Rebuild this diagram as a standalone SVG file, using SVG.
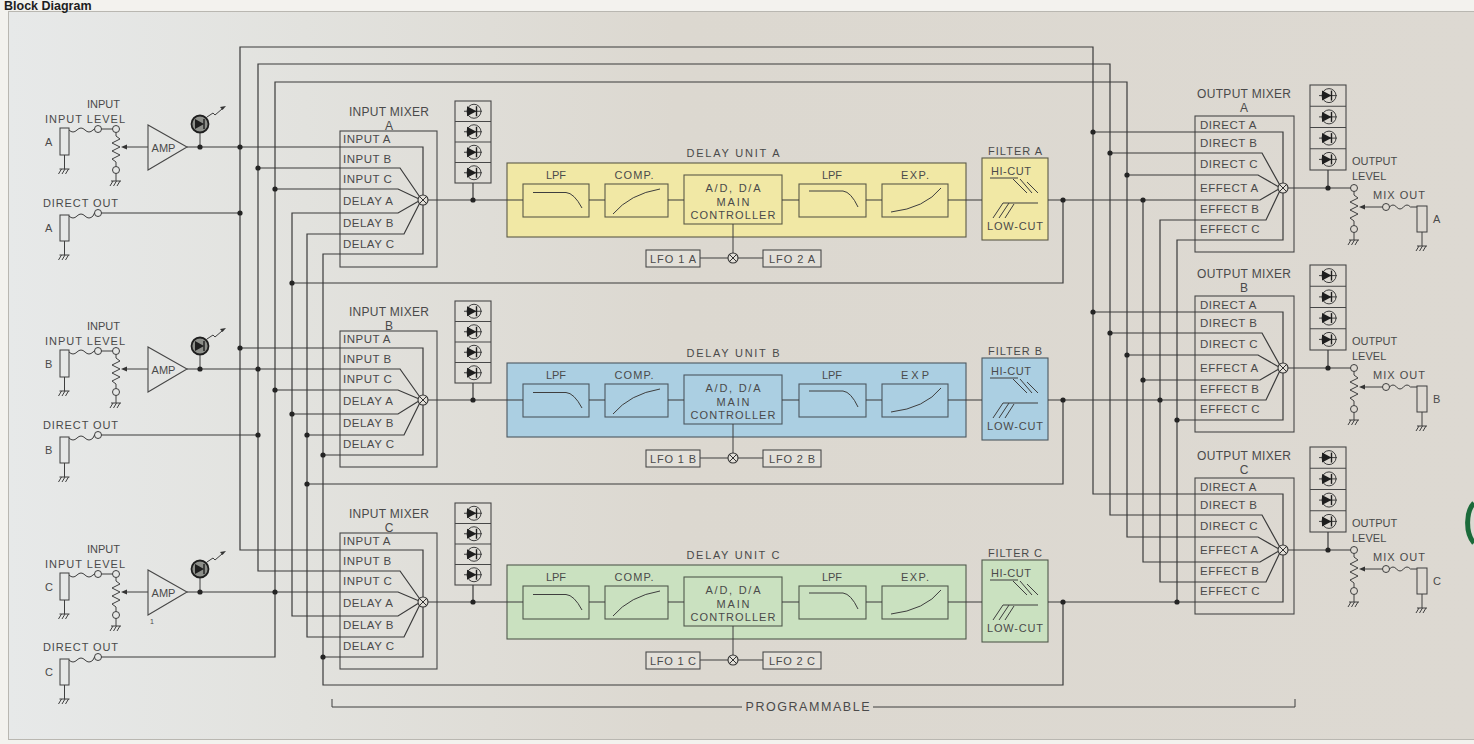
<svg xmlns="http://www.w3.org/2000/svg" width="1474" height="744" viewBox="0 0 1474 744">
<defs>
<style>
text{font-family:"Liberation Sans",Arial,Helvetica,sans-serif;fill:#4a4a4a;font-size:11px}
.m{text-anchor:middle}
.ttl{font-size:12px;text-anchor:middle}
.row{font-size:11.5px;letter-spacing:.5px}
.w{fill:none;stroke:#3b3b3b;stroke-width:1.2}
.b{fill:none;stroke:#474747;stroke-width:1.1}
.c{fill:none;stroke:#3e3e3e;stroke-width:1}
.d{fill:#242424}
.yl{fill:#f1e8a5;stroke:#5b5a48;stroke-width:1.1}
.bl{fill:#abcfe2;stroke:#4c5860;stroke-width:1.1}
.gr{fill:#cae1c0;stroke:#50594c;stroke-width:1.1}
.lfo{fill:#e3e0d9;stroke:#4a4a4a;stroke-width:1.1}
</style>
<linearGradient id="bg" x1="0" y1="0" x2="1" y2="0">
<stop offset="0" stop-color="#e7e9e9"/><stop offset="0.2" stop-color="#e2e2de"/><stop offset="0.45" stop-color="#dcd8d0"/><stop offset="1" stop-color="#ddd9d2"/>
</linearGradient>
<g id="gnd"><path d="M-5,0 H5 M-3,0 L-6,5 M0.5,0 L-2.5,5 M4,0 L1,5" class="c"/></g>
<g id="led"><line x1="-9" y1="0" x2="9" y2="0" class="c"/><circle cx="1" cy="0" r="7" class="c"/><path d="M-6,-5 L-6,5 L3.5,0 Z" fill="#1e1e1e"/><line x1="3.5" y1="-5" x2="3.5" y2="5" stroke="#1e1e1e" stroke-width="1.4"/></g>
<g id="led2"><circle cx="0" cy="0" r="8.5" fill="#8d8f8a" stroke="#1e1e1e" stroke-width="1.8"/><path d="M-5,-5 L-5,5 L4,0 Z" fill="#1e1e1e"/><line x1="4" y1="-5" x2="4" y2="5" stroke="#1e1e1e" stroke-width="1.4"/></g>
<g id="xj"><circle r="5" fill="#e2dfd8" stroke="#333" stroke-width="1.1"/><path d="M-3.5,-3.5 L3.5,3.5 M-3.5,3.5 L3.5,-3.5" stroke="#333" stroke-width="1"/></g>
<g id="pot"><circle r="3.5" class="c"/><path class="c" d="M0,3.5 V7 L4,10 L-4,14 L4,18 L-4,22 L4,26 L-4,30 L0,33 V37.5"/><circle cy="41" r="3.5" class="c"/><path class="c" d="M0,44.5 V52"/><use href="#gnd" y="52"/></g>
</defs>

<g id="frame">
<rect x="0" y="0" width="1474" height="744" fill="#f3f2ee"/>
<rect x="8.5" y="11.5" width="1480" height="728" fill="url(#bg)" stroke="#b9b7b1"/>
<path d="M1474,503 C1466,511 1465,533 1474,543" fill="none" stroke="#1c6b3b" stroke-width="5"/>
</g>
<g id="title"><text x="4" y="10" style="fill:#1e1e1e;font-size:12.5px;font-weight:bold">Block Diagram</text></g>

<!-- INPUT SECTIONS -->
<g id="input-a" transform="translate(0,147)">
<text x="87" y="-39">INPUT</text><text x="45" y="-24" textLength="80">INPUT LEVEL</text><text x="45" y="-1">A</text>
<rect x="60" y="-19" width="9" height="27" class="c"/><path class="c" d="M64.5,8 V22"/><use href="#gnd" x="64.5" y="22"/>
<path class="c" d="M69,-17 q4,4 8,0 t8,0 t8,0 L94.5,-18"/><circle cx="98" cy="-18" r="3.5" class="c"/><path class="c" d="M101.5,-18 H112.5"/>
<use href="#pot" x="116" y="-18"/>
<path d="M121,0 l6,-2.5 v5 z" fill="#333"/><path class="c" d="M127,0 H148"/>
<polygon points="148,-22 148,23 187,0" class="b"/><text x="163.5" y="5" class="m">AMP</text>
<use href="#led2" x="200" y="-23"/><path class="c" d="M200,-14 V0"/>
<path class="c" d="M207,-30 L213,-34 L215,-32 L222,-38"/><path d="M226,-41 l-6,1 l2.5,3 z" fill="#333"/>
</g>
<g id="direct-out-a" transform="translate(0,213)">
<text x="43" y="-6" textLength="75">DIRECT OUT</text><text x="45" y="19">A</text>
<rect x="60" y="2" width="9" height="26" class="c"/><path class="c" d="M64.5,28 V42"/><use href="#gnd" x="64.5" y="42"/>
<path class="c" d="M69,3 q4,4 8,0 t8,0 t8,0 L94.5,0"/><circle cx="98" cy="0" r="3.5" class="c"/>
</g>
<g id="input-b" transform="translate(0,369)">
<text x="87" y="-39">INPUT</text><text x="45" y="-24" textLength="80">INPUT LEVEL</text><text x="45" y="-1">B</text>
<rect x="60" y="-19" width="9" height="27" class="c"/><path class="c" d="M64.5,8 V22"/><use href="#gnd" x="64.5" y="22"/>
<path class="c" d="M69,-17 q4,4 8,0 t8,0 t8,0 L94.5,-18"/><circle cx="98" cy="-18" r="3.5" class="c"/><path class="c" d="M101.5,-18 H112.5"/>
<use href="#pot" x="116" y="-18"/>
<path d="M121,0 l6,-2.5 v5 z" fill="#333"/><path class="c" d="M127,0 H148"/>
<polygon points="148,-22 148,23 187,0" class="b"/><text x="163.5" y="5" class="m">AMP</text>
<use href="#led2" x="200" y="-23"/><path class="c" d="M200,-14 V0"/>
<path class="c" d="M207,-30 L213,-34 L215,-32 L222,-38"/><path d="M226,-41 l-6,1 l2.5,3 z" fill="#333"/>
</g>
<g id="direct-out-b" transform="translate(0,435)">
<text x="43" y="-6" textLength="75">DIRECT OUT</text><text x="45" y="19">B</text>
<rect x="60" y="2" width="9" height="26" class="c"/><path class="c" d="M64.5,28 V42"/><use href="#gnd" x="64.5" y="42"/>
<path class="c" d="M69,3 q4,4 8,0 t8,0 t8,0 L94.5,0"/><circle cx="98" cy="0" r="3.5" class="c"/>
</g>
<g id="input-c" transform="translate(0,592)">
<text x="87" y="-39">INPUT</text><text x="45" y="-24" textLength="80">INPUT LEVEL</text><text x="45" y="-1">C</text>
<rect x="60" y="-19" width="9" height="27" class="c"/><path class="c" d="M64.5,8 V22"/><use href="#gnd" x="64.5" y="22"/>
<path class="c" d="M69,-17 q4,4 8,0 t8,0 t8,0 L94.5,-18"/><circle cx="98" cy="-18" r="3.5" class="c"/><path class="c" d="M101.5,-18 H112.5"/>
<use href="#pot" x="116" y="-18"/>
<path d="M121,0 l6,-2.5 v5 z" fill="#333"/><path class="c" d="M127,0 H148"/>
<polygon points="148,-22 148,23 187,0" class="b"/><text x="163.5" y="5" class="m">AMP</text>
<text x="150" y="32" style="font-size:7px">1</text>
<use href="#led2" x="200" y="-23"/><path class="c" d="M200,-14 V0"/>
<path class="c" d="M207,-30 L213,-34 L215,-32 L222,-38"/><path d="M226,-41 l-6,1 l2.5,3 z" fill="#333"/>
</g>
<g id="direct-out-c" transform="translate(0,657)">
<text x="43" y="-6" textLength="75">DIRECT OUT</text><text x="45" y="19">C</text>
<rect x="60" y="2" width="9" height="26" class="c"/><path class="c" d="M64.5,28 V42"/><use href="#gnd" x="64.5" y="42"/>
<path class="c" d="M69,3 q4,4 8,0 t8,0 t8,0 L94.5,0"/><circle cx="98" cy="0" r="3.5" class="c"/>
</g>

<!-- INPUT MIXERS -->
<g id="input-mixer-a" transform="translate(0,200)">
<text x="389" y="-84" class="ttl" textLength="80">INPUT MIXER</text><text x="389" y="-70" class="ttl">A</text>
<rect x="340" y="-69" width="97" height="136" class="b"/>
<text x="343" y="-57" class="row">INPUT A</text><text x="343" y="-37" class="row">INPUT B</text><text x="343" y="-17" class="row">INPUT C</text>
<text x="343" y="5" class="row">DELAY A</text><text x="343" y="27" class="row">DELAY B</text><text x="343" y="48" class="row">DELAY C</text>
<use href="#xj" x="423" y="0"/>
</g>
<g id="input-mixer-b" transform="translate(0,400)">
<text x="389" y="-84" class="ttl" textLength="80">INPUT MIXER</text><text x="389" y="-70" class="ttl">B</text>
<rect x="340" y="-69" width="97" height="136" class="b"/>
<text x="343" y="-57" class="row">INPUT A</text><text x="343" y="-37" class="row">INPUT B</text><text x="343" y="-17" class="row">INPUT C</text>
<text x="343" y="5" class="row">DELAY A</text><text x="343" y="27" class="row">DELAY B</text><text x="343" y="48" class="row">DELAY C</text>
<use href="#xj" x="423" y="0"/>
</g>
<g id="input-mixer-c" transform="translate(0,602)">
<text x="389" y="-84" class="ttl" textLength="80">INPUT MIXER</text><text x="389" y="-70" class="ttl">C</text>
<rect x="340" y="-69" width="97" height="136" class="b"/>
<text x="343" y="-57" class="row">INPUT A</text><text x="343" y="-37" class="row">INPUT B</text><text x="343" y="-17" class="row">INPUT C</text>
<text x="343" y="5" class="row">DELAY A</text><text x="343" y="27" class="row">DELAY B</text><text x="343" y="48" class="row">DELAY C</text>
<use href="#xj" x="423" y="0"/>
</g>

<!-- INPUT METERS -->
<g id="meter-in-a" transform="translate(0,200)">
<rect x="455" y="-99" width="36" height="82" class="b"/><path class="b" d="M455,-78.5 H491 M455,-58 H491 M455,-37.5 H491"/>
<use href="#led" x="473" y="-88.75"/><use href="#led" x="473" y="-68.25"/><use href="#led" x="473" y="-47.75"/><use href="#led" x="473" y="-27.25"/>
</g>
<g id="meter-in-b" transform="translate(0,400)">
<rect x="455" y="-99" width="36" height="82" class="b"/><path class="b" d="M455,-78.5 H491 M455,-58 H491 M455,-37.5 H491"/>
<use href="#led" x="473" y="-88.75"/><use href="#led" x="473" y="-68.25"/><use href="#led" x="473" y="-47.75"/><use href="#led" x="473" y="-27.25"/>
</g>
<g id="meter-in-c" transform="translate(0,602)">
<rect x="455" y="-99" width="36" height="82" class="b"/><path class="b" d="M455,-78.5 H491 M455,-58 H491 M455,-37.5 H491"/>
<use href="#led" x="473" y="-88.75"/><use href="#led" x="473" y="-68.25"/><use href="#led" x="473" y="-47.75"/><use href="#led" x="473" y="-27.25"/>
</g>

<!-- DELAY UNITS -->
<g id="delay-unit-a" transform="translate(0,200)">
<text x="733" y="-43" class="m" textLength="93">DELAY UNIT A</text>
<rect x="507" y="-37" width="459" height="74" class="yl"/>
<rect x="523" y="-16" width="66" height="33" class="yl"/><text x="556" y="-21" class="m">LPF</text><path class="c" d="M533,-7.5 H566 Q574,-7 582,8"/>
<rect x="605" y="-16" width="63" height="33" class="yl"/><text x="634" y="-21" class="m" textLength="39">COMP.</text><path class="c" d="M613,14 Q630,-6 660,-11"/>
<rect x="684" y="-25" width="98" height="49" class="yl"/>
<text x="733" y="-8" class="m" textLength="55">A/D, D/A</text><text x="733" y="6" class="m" textLength="33">MAIN</text><text x="733" y="19" class="m" textLength="85">CONTROLLER</text>
<rect x="799" y="-16" width="67" height="33" class="yl"/><text x="832" y="-21" class="m">LPF</text><path class="c" d="M809,-9 H843 Q851,-8 858,7"/>
<rect x="882" y="-16" width="66" height="33" class="yl"/><text x="915" y="-21" class="m" textLength="28">EXP.</text><path class="c" d="M891,12 Q925,8 941,-12"/>
<path class="c" d="M733,24 V53 M700,58 H728 M738,58 H763"/><use href="#xj" x="733" y="58"/>
<rect x="646" y="50" width="54" height="17" class="lfo"/><text x="673" y="63" class="m" textLength="46">LFO 1 A</text>
<rect x="763" y="50" width="58" height="17" class="lfo"/><text x="792" y="63" class="m" textLength="46">LFO 2 A</text>
</g>
<g id="delay-unit-b" transform="translate(0,400)">
<text x="733" y="-43" class="m" textLength="93">DELAY UNIT B</text>
<rect x="507" y="-37" width="459" height="74" class="bl"/>
<rect x="523" y="-16" width="66" height="33" class="bl"/><text x="556" y="-21" class="m">LPF</text><path class="c" d="M533,-7.5 H566 Q574,-7 582,8"/>
<rect x="605" y="-16" width="63" height="33" class="bl"/><text x="634" y="-21" class="m" textLength="39">COMP.</text><path class="c" d="M613,14 Q630,-6 660,-11"/>
<rect x="684" y="-25" width="98" height="49" class="bl"/>
<text x="733" y="-8" class="m" textLength="55">A/D, D/A</text><text x="733" y="6" class="m" textLength="33">MAIN</text><text x="733" y="19" class="m" textLength="85">CONTROLLER</text>
<rect x="799" y="-16" width="67" height="33" class="bl"/><text x="832" y="-21" class="m">LPF</text><path class="c" d="M809,-9 H843 Q851,-8 858,7"/>
<rect x="882" y="-16" width="66" height="33" class="bl"/><text x="915" y="-21" class="m" textLength="28">EXP</text><path class="c" d="M891,12 Q925,8 941,-12"/>
<path class="c" d="M733,24 V53 M700,58 H728 M738,58 H763"/><use href="#xj" x="733" y="58"/>
<rect x="646" y="50" width="54" height="17" class="lfo"/><text x="673" y="63" class="m" textLength="46">LFO 1 B</text>
<rect x="763" y="50" width="58" height="17" class="lfo"/><text x="792" y="63" class="m" textLength="46">LFO 2 B</text>
</g>
<g id="delay-unit-c" transform="translate(0,602)">
<text x="733" y="-43" class="m" textLength="93">DELAY UNIT C</text>
<rect x="507" y="-37" width="459" height="74" class="gr"/>
<rect x="523" y="-16" width="66" height="33" class="gr"/><text x="556" y="-21" class="m">LPF</text><path class="c" d="M533,-7.5 H566 Q574,-7 582,8"/>
<rect x="605" y="-16" width="63" height="33" class="gr"/><text x="634" y="-21" class="m" textLength="39">COMP.</text><path class="c" d="M613,14 Q630,-6 660,-11"/>
<rect x="684" y="-25" width="98" height="49" class="gr"/>
<text x="733" y="-8" class="m" textLength="55">A/D, D/A</text><text x="733" y="6" class="m" textLength="33">MAIN</text><text x="733" y="19" class="m" textLength="85">CONTROLLER</text>
<rect x="799" y="-16" width="67" height="33" class="gr"/><text x="832" y="-21" class="m">LPF</text><path class="c" d="M809,-9 H843 Q851,-8 858,7"/>
<rect x="882" y="-16" width="66" height="33" class="gr"/><text x="915" y="-21" class="m" textLength="28">EXP.</text><path class="c" d="M891,12 Q925,8 941,-12"/>
<path class="c" d="M733,24 V53 M700,58 H728 M738,58 H763"/><use href="#xj" x="733" y="58"/>
<rect x="646" y="50" width="54" height="17" class="lfo"/><text x="673" y="63" class="m" textLength="46">LFO 1 C</text>
<rect x="763" y="50" width="58" height="17" class="lfo"/><text x="792" y="63" class="m" textLength="46">LFO 2 C</text>
</g>

<!-- FILTERS -->
<g id="filter-a" transform="translate(0,200)">
<text x="1015" y="-45" class="m" textLength="54">FILTER A</text>
<rect x="982" y="-42" width="66" height="82" class="yl"/>
<text x="1011" y="-25" class="m" textLength="40">HI-CUT</text>
<path class="c" d="M990,-22 H1018 M1013,-21 L1027,-7 M1020,-21 L1032,-7 M1027,-18 L1038,-7"/>
<path class="c" d="M1003,3 H1038 M993,18 L1003,3 M999,18 L1009,3 M1005,18 L1014,4"/>
<text x="1015" y="30" class="m" textLength="56">LOW-CUT</text>
</g>
<g id="filter-b" transform="translate(0,400)">
<text x="1015" y="-45" class="m" textLength="54">FILTER B</text>
<rect x="982" y="-42" width="66" height="82" class="bl"/>
<text x="1011" y="-25" class="m" textLength="40">HI-CUT</text>
<path class="c" d="M990,-22 H1018 M1013,-21 L1027,-7 M1020,-21 L1032,-7 M1027,-18 L1038,-7"/>
<path class="c" d="M1003,3 H1038 M993,18 L1003,3 M999,18 L1009,3 M1005,18 L1014,4"/>
<text x="1015" y="30" class="m" textLength="56">LOW-CUT</text>
</g>
<g id="filter-c" transform="translate(0,602)">
<text x="1015" y="-45" class="m" textLength="54">FILTER C</text>
<rect x="982" y="-42" width="66" height="82" class="gr"/>
<text x="1011" y="-25" class="m" textLength="40">HI-CUT</text>
<path class="c" d="M990,-22 H1018 M1013,-21 L1027,-7 M1020,-21 L1032,-7 M1027,-18 L1038,-7"/>
<path class="c" d="M1003,3 H1038 M993,18 L1003,3 M999,18 L1009,3 M1005,18 L1014,4"/>
<text x="1015" y="30" class="m" textLength="56">LOW-CUT</text>
</g>

<!-- OUTPUT MIXERS -->
<g id="output-mixer-a" transform="translate(0,188)">
<text x="1244" y="-90" class="ttl" textLength="94">OUTPUT MIXER</text><text x="1244" y="-76" class="ttl">A</text>
<rect x="1195" y="-72" width="99" height="136" class="b"/>
<text x="1200" y="-59" class="row">DIRECT A</text><text x="1200" y="-41" class="row">DIRECT B</text><text x="1200" y="-20" class="row">DIRECT C</text>
<text x="1200" y="4" class="row">EFFECT A</text><text x="1200" y="25" class="row">EFFECT B</text><text x="1200" y="45" class="row">EFFECT C</text>
<use href="#xj" x="1283" y="0"/>
</g>
<g id="output-mixer-b" transform="translate(0,368)">
<text x="1244" y="-90" class="ttl" textLength="94">OUTPUT MIXER</text><text x="1244" y="-76" class="ttl">B</text>
<rect x="1195" y="-72" width="99" height="136" class="b"/>
<text x="1200" y="-59" class="row">DIRECT A</text><text x="1200" y="-41" class="row">DIRECT B</text><text x="1200" y="-20" class="row">DIRECT C</text>
<text x="1200" y="4" class="row">EFFECT A</text><text x="1200" y="25" class="row">EFFECT B</text><text x="1200" y="45" class="row">EFFECT C</text>
<use href="#xj" x="1283" y="0"/>
</g>
<g id="output-mixer-c" transform="translate(0,550)">
<text x="1244" y="-90" class="ttl" textLength="94">OUTPUT MIXER</text><text x="1244" y="-76" class="ttl">C</text>
<rect x="1195" y="-72" width="99" height="136" class="b"/>
<text x="1200" y="-59" class="row">DIRECT A</text><text x="1200" y="-41" class="row">DIRECT B</text><text x="1200" y="-20" class="row">DIRECT C</text>
<text x="1200" y="4" class="row">EFFECT A</text><text x="1200" y="25" class="row">EFFECT B</text><text x="1200" y="45" class="row">EFFECT C</text>
<use href="#xj" x="1283" y="0"/>
</g>

<!-- OUTPUT METERS -->
<g id="meter-out-a" transform="translate(0,188)">
<rect x="1310" y="-103" width="36" height="85" class="b"/><path class="b" d="M1310,-81.75 H1346 M1310,-60.5 H1346 M1310,-39.25 H1346"/>
<use href="#led" x="1328" y="-92.4"/><use href="#led" x="1328" y="-71.1"/><use href="#led" x="1328" y="-49.9"/><use href="#led" x="1328" y="-28.6"/>
</g>
<g id="meter-out-b" transform="translate(0,368)">
<rect x="1310" y="-103" width="36" height="85" class="b"/><path class="b" d="M1310,-81.75 H1346 M1310,-60.5 H1346 M1310,-39.25 H1346"/>
<use href="#led" x="1328" y="-92.4"/><use href="#led" x="1328" y="-71.1"/><use href="#led" x="1328" y="-49.9"/><use href="#led" x="1328" y="-28.6"/>
</g>
<g id="meter-out-c" transform="translate(0,550)">
<rect x="1310" y="-103" width="36" height="85" class="b"/><path class="b" d="M1310,-81.75 H1346 M1310,-60.5 H1346 M1310,-39.25 H1346"/>
<use href="#led" x="1328" y="-92.4"/><use href="#led" x="1328" y="-71.1"/><use href="#led" x="1328" y="-49.9"/><use href="#led" x="1328" y="-28.6"/>
</g>

<!-- MIX OUTS -->
<g id="mix-out-a" transform="translate(0,188)">
<text x="1352" y="-23">OUTPUT</text><text x="1352" y="-8">LEVEL</text>
<use href="#pot" x="1354" y="0"/>
<path d="M1359,19 l6,-2.5 v5 z" fill="#333"/><path class="c" d="M1365,19 H1382.5"/><circle cx="1386" cy="19" r="3.5" class="c"/>
<text x="1373" y="11" textLength="52">MIX OUT</text>
<path class="c" d="M1389.5,19 q3.5,-4 7,0 t7,0 t7,0 L1417,19"/>
<rect x="1417" y="18" width="10" height="26" class="c"/><path class="c" d="M1422,44 V58"/><use href="#gnd" x="1422" y="58"/>
<text x="1433" y="35">A</text>
</g>
<g id="mix-out-b" transform="translate(0,368)">
<text x="1352" y="-23">OUTPUT</text><text x="1352" y="-8">LEVEL</text>
<use href="#pot" x="1354" y="0"/>
<path d="M1359,19 l6,-2.5 v5 z" fill="#333"/><path class="c" d="M1365,19 H1382.5"/><circle cx="1386" cy="19" r="3.5" class="c"/>
<text x="1373" y="11" textLength="52">MIX OUT</text>
<path class="c" d="M1389.5,19 q3.5,-4 7,0 t7,0 t7,0 L1417,19"/>
<rect x="1417" y="18" width="10" height="26" class="c"/><path class="c" d="M1422,44 V58"/><use href="#gnd" x="1422" y="58"/>
<text x="1433" y="35">B</text>
</g>
<g id="mix-out-c" transform="translate(0,550)">
<text x="1352" y="-23">OUTPUT</text><text x="1352" y="-8">LEVEL</text>
<use href="#pot" x="1354" y="0"/>
<path d="M1359,19 l6,-2.5 v5 z" fill="#333"/><path class="c" d="M1365,19 H1382.5"/><circle cx="1386" cy="19" r="3.5" class="c"/>
<text x="1373" y="11" textLength="52">MIX OUT</text>
<path class="c" d="M1389.5,19 q3.5,-4 7,0 t7,0 t7,0 L1417,19"/>
<rect x="1417" y="18" width="10" height="26" class="c"/><path class="c" d="M1422,44 V58"/><use href="#gnd" x="1422" y="58"/>
<text x="1433" y="35">C</text>
</g>

<g id="programmable">
<path class="c" d="M332,699 V707 H742 M873,707 H1295 V699"/>
<text x="807.5" y="711" class="m" style="font-size:12.5px" textLength="124">PROGRAMMABLE</text>
</g>

<!-- CONNECTORS -->
<g id="connectors" class="w">
<path d="M423,597 V550 H240 V47 H1093 V494 H1283 V545"/>
<path d="M419.5,598.5 L400,571 H258 V64 H1110 V515 H1262 L1279.5,546.5"/>
<path d="M101.5,657 H275 V82 H1127 V537 H1258 L1278,548.5"/>
<path d="M418,201.5 L398,213 H292 V616 H398 L418,603.5"/>
<path d="M419.5,203.5 L404,234 H307 V637 H404 L419.5,605.5"/>
<path d="M423,205 V254 H323 V685 H1063 V602"/>
<path d="M1143,200 V562 H1260 L1278,551.5"/>
<path d="M1279.5,191.5 L1266,220 H1160 V582 H1266 L1279.5,553.5"/>
<path d="M1283,193 V240 H1177 V602"/>
<path d="M292,283 H1063 V200"/>
<path d="M307,484 H1063 V400"/>
<path d="M187,147 H423 V195"/>
<path d="M258,168 H400 L419.5,196.5"/>
<path d="M275,189 H398 L418,198.5"/>
<path d="M240,348 H423 V395"/>
<path d="M187,369 H400 L419.5,396.5"/>
<path d="M275,390 H398 L418,398.5"/>
<path d="M292,414 H398 L418,401.5"/>
<path d="M307,435 H404 L419.5,403.5"/>
<path d="M323,455 H423 V405"/>
<path d="M187,592 H398 L418,600.5"/>
<path d="M323,657 H423 V607"/>
<path d="M101.5,213 H240"/>
<path d="M101.5,435 H258"/>
<path d="M428,200 H523 M589,200 H605 M668,200 H684 M782,200 H799 M866,200 H882 M948,200 H982 M1048,200 H1260 L1278,189.5"/>
<path d="M428,400 H523 M589,400 H605 M668,400 H684 M782,400 H799 M866,400 H882 M948,400 H982 M1048,400 H1266 L1279.5,371.5"/>
<path d="M428,602 H523 M589,602 H605 M668,602 H684 M782,602 H799 M866,602 H882 M948,602 H982 M1048,602 H1283 V555"/>
<path d="M1093,132 H1283 V183"/>
<path d="M1110,153 H1262 L1279.5,184.5"/>
<path d="M1127,175 H1258 L1278,186.5"/>
<path d="M1093,312 H1283 V363"/>
<path d="M1110,333 H1262 L1279.5,364.5"/>
<path d="M1127,355 H1258 L1278,366.5"/>
<path d="M1143,380 H1260 L1278,369.5"/>
<path d="M1177,420 H1283 V373"/>
<path d="M473,183 V200 M473,383 V400 M473,585 V602"/>
<path d="M1288,188 H1350.5 M1288,368 H1350.5 M1288,550 H1350.5"/>
<path d="M1328,170 V188 M1328,350 V368 M1328,532 V550"/>
<g class="d" stroke="none">
<circle cx="200" cy="147" r="2.6"/><circle cx="240" cy="147" r="2.6"/><circle cx="240" cy="213" r="2.6"/><circle cx="258" cy="168" r="2.6"/><circle cx="275" cy="189" r="2.6"/>
<circle cx="240" cy="348" r="2.6"/><circle cx="200" cy="369" r="2.6"/><circle cx="258" cy="369" r="2.6"/><circle cx="258" cy="435" r="2.6"/><circle cx="275" cy="390" r="2.6"/><circle cx="292" cy="414" r="2.6"/><circle cx="307" cy="435" r="2.6"/><circle cx="323" cy="455" r="2.6"/>
<circle cx="200" cy="592" r="2.6"/><circle cx="275" cy="592" r="2.6"/><circle cx="323" cy="657" r="2.6"/>
<circle cx="292" cy="283" r="2.6"/><circle cx="307" cy="484" r="2.6"/>
<circle cx="473" cy="200" r="2.6"/><circle cx="473" cy="400" r="2.6"/><circle cx="473" cy="602" r="2.6"/>
<circle cx="1063" cy="200" r="2.6"/><circle cx="1063" cy="400" r="2.6"/><circle cx="1063" cy="602" r="2.6"/>
<circle cx="1093" cy="132" r="2.6"/><circle cx="1110" cy="153" r="2.6"/><circle cx="1127" cy="175" r="2.6"/><circle cx="1143" cy="200" r="2.6"/>
<circle cx="1093" cy="312" r="2.6"/><circle cx="1110" cy="333" r="2.6"/><circle cx="1127" cy="355" r="2.6"/><circle cx="1143" cy="380" r="2.6"/><circle cx="1160" cy="400" r="2.6"/><circle cx="1177" cy="420" r="2.6"/>
<circle cx="1177" cy="602" r="2.6"/>
<circle cx="1328" cy="188" r="2.6"/><circle cx="1328" cy="368" r="2.6"/><circle cx="1328" cy="550" r="2.6"/>
</g>
</g>
</svg>
